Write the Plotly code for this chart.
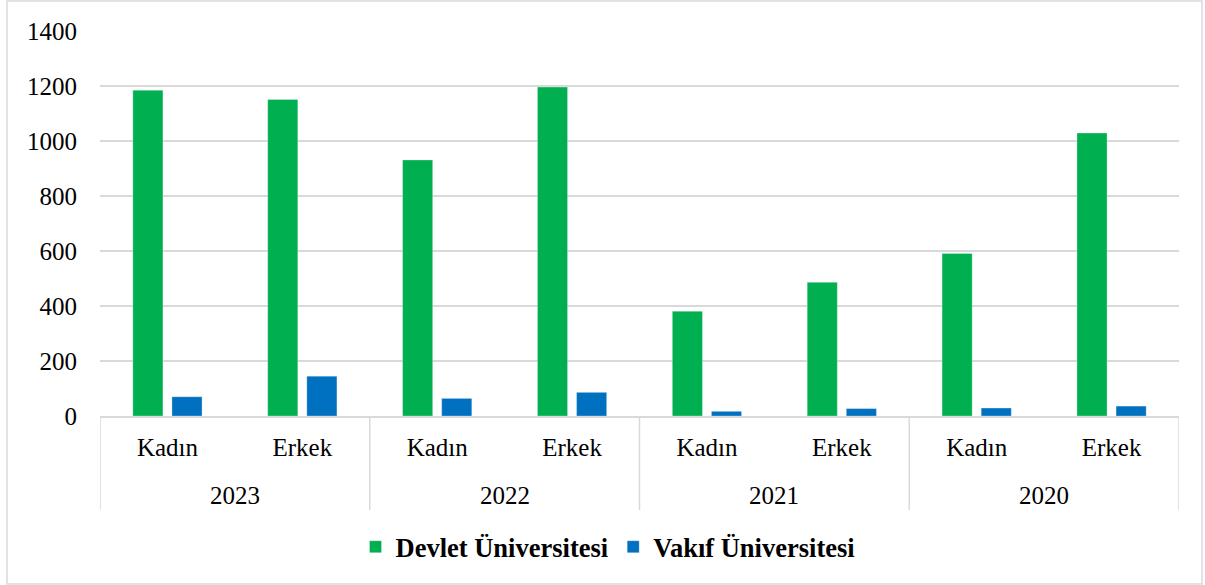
import plotly.graph_objects as go

years = ["2023", "2023", "2022", "2022", "2021", "2021", "2020", "2020"]
genders = ["Kadın", "Erkek", "Kadın", "Erkek", "Kadın", "Erkek", "Kadın", "Erkek"]
devlet = [1185, 1151, 931, 1196, 381, 486, 591, 1029]
vakif = [70, 145, 64, 86, 17, 27, 29, 36]
series_names = ["Devlet Üniversitesi", "Vakıf Üniversitesi"]
colors = ["#00B050", "#0070C0"]
y_ticks = [0, 200, 400, 600, 800, 1000, 1200, 1400]

W, H = 1205, 585
L, R, T, B = 100, 1179, 31, 416
PH = B - T

def py(pix):
    return (B - pix) / PH

cats = [f"{y} {g}" for y, g in zip(years, genders)]
font = "Liberation Serif"
grid = "#D9D9D9"

fig = go.Figure()
for name, vals, col in zip(series_names, [devlet, vakif], colors):
    fig.add_trace(go.Bar(
        x=cats, y=vals, name=name,
        marker=dict(color=col, line=dict(color="rgba(255,255,255,0.6)", width=0.5)),
    ))

# group structure (years) derived from the data
groups = []
for i, y in enumerate(years):
    if not groups or groups[-1][0] != y:
        groups.append([y, i, i])
    else:
        groups[-1][2] = i

annotations = []
shapes = []
for y, i0, i1 in groups:
    annotations.append(dict(
        x=(i0 + i1) / 2, xref="x", y=py(495), yref="paper", text=y,
        showarrow=False, xanchor="center", yanchor="middle",
        font=dict(family=font, size=25, color="black"),
    ))
bounds = [g[1] - 0.5 for g in groups] + [groups[-1][2] + 0.5]
for b in bounds:
    shapes.append(dict(
        type="line", xref="x", yref="paper", x0=b, x1=b, y0=0, y1=py(510),
        line=dict(color=grid, width=1.5), layer="below",
    ))
shapes.append(dict(
    type="rect", xref="paper", yref="paper",
    x0=(7 - L) / (R - L), x1=(1202 - L) / (R - L),
    y0=py(584), y1=py(1),
    line=dict(color=grid, width=1.5), fillcolor="rgba(0,0,0,0)", layer="below",
))

fig.update_layout(
    width=W, height=H,
    margin=dict(l=L, r=W - R, t=T, b=H - B, pad=0),
    paper_bgcolor="white", plot_bgcolor="white",
    barmode="group", bargap=0.42, bargroupgap=0.23,
    font=dict(family=font, size=25, color="black"),
    showlegend=True,
    legend=dict(
        orientation="h", x=(608 - L) / (R - L), xanchor="center",
        y=py(547), yanchor="middle",
        font=dict(family=font, size=26.5, color="black", weight="bold"),
        traceorder="normal", itemwidth=30,
    ),
    xaxis=dict(
        type="category", categoryorder="array", categoryarray=cats,
        tickvals=cats, ticktext=genders,
        showline=True, linecolor=grid, linewidth=1.5,
        ticks="", ticklabelstandoff=8,
        tickfont=dict(family=font, size=25, color="black"),
        showgrid=False, range=[-0.5, len(cats) - 0.5],
    ),
    yaxis=dict(
        range=[0, 1400], tickvals=y_ticks, showgrid=True, gridcolor=grid,
        gridwidth=1.5, zeroline=False, showline=False, ticks="",
        ticklabelstandoff=22, tickfont=dict(family=font, size=25, color="black"),
    ),
    annotations=annotations,
    shapes=shapes,
)

fig.write_html("out.html", config={"displayModeBar": False},
               post_script="document.body.style.margin='0';")
